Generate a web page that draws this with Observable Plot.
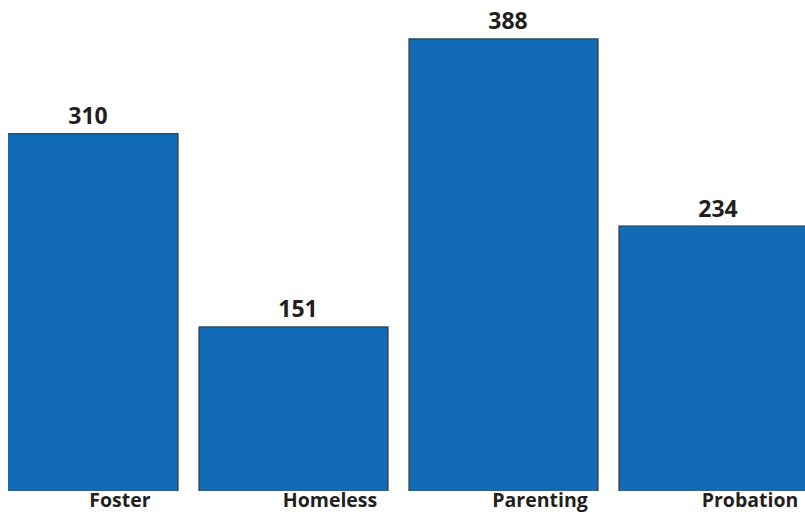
<!DOCTYPE html>
<html>
<head>
<meta charset="utf-8">
<script src="https://cdn.jsdelivr.net/npm/d3@7"></script>
<script src="https://cdn.jsdelivr.net/npm/@observablehq/plot@0.6"></script>
<style>
  html, body { margin: 0; padding: 0; background: #fff; }
  #chart svg { display: block; }
</style>
</head>
<body>
<div id="chart"></div>
<script>
const categories = ["Foster", "Homeless", "Parenting", "Probation"];
const values = [310, 151, 388, 234];

const data = categories.map((c, i) => ({category: c, value: values[i]}));

const chart = Plot.plot({
  width: 805,
  height: 512,
  marginTop: 0,
  marginBottom: 21,
  marginLeft: 8,
  marginRight: 0,
  style: {fontFamily: "'Open Sans', sans-serif", background: "#fff", overflow: "visible"},
  x: {domain: categories, range: [-34, 831], padding: 0.1, axis: null},
  y: {domain: [16, 420], axis: null},
  marks: [
    Plot.barY(data, {x: "category", y: "value", fill: "#116bb6", stroke: "#3a3a3a", strokeWidth: 1.2, clip: true}),
    Plot.text(data, {x: "category", y: "value", text: d => String(d.value), lineAnchor: "bottom", dy: -10, dx: 4,
      fontSize: 23, fontWeight: 700, fill: "#231f20"}),
    Plot.text(data, {x: "category", text: "category", frameAnchor: "bottom", lineAnchor: "bottom", dy: 15, dx: 36,
      fontSize: 19.5, fontWeight: 700, fill: "#231f20"})
  ]
});
document.getElementById("chart").appendChild(chart);
</script>
</body>
</html>
